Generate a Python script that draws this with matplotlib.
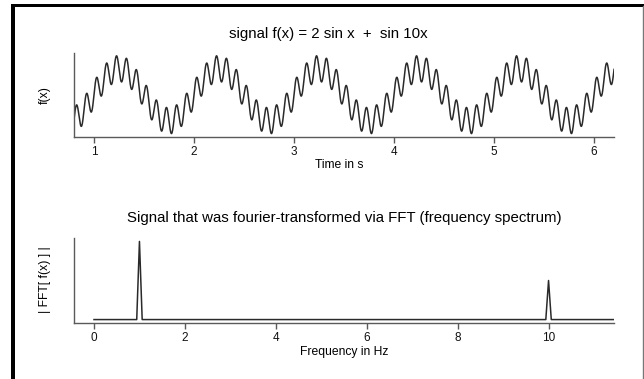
import numpy as np
import matplotlib
matplotlib.use("Agg")
import matplotlib.pyplot as plt
from matplotlib.patches import Rectangle
from matplotlib.lines import Line2D

# signal components read from the title: 2 sin x + sin 10x (x in cycles per second)
amplitudes = [2.0, 1.0]
frequencies_hz = [1.0, 10.0]
time_range = [0.0, 6.4]

# spectrum peaks (frequency in Hz, magnitude)
peak_freqs = [1.0, 10.0]
peak_mags = [2.0, 1.0]
spectrum_range = [0.0, 11.6]

time_ticks = [1, 2, 3, 4, 5, 6]
freq_ticks = [0, 2, 4, 6, 8, 10]

title_top = "signal f(x) = 2 sin x  +  sin 10x"
title_bottom = "Signal that was fourier-transformed via FFT (frequency spectrum)"

plt.rcParams['font.family'] = ['Liberation Sans', 'DejaVu Sans']

W, H = 644, 379
fig = plt.figure(figsize=(W / 100, H / 100), dpi=100)

axis_col = "#5a5a5a"
line_col = "#2a2a2a"


def style(ax):
    for s in ("top", "right"):
        ax.spines[s].set_visible(False)
    for s in ("left", "bottom"):
        ax.spines[s].set_color(axis_col)
        ax.spines[s].set_linewidth(1.0)
    ax.tick_params(axis="x", direction="out", length=4, width=1.0, color=axis_col,
                   labelsize=8.5, pad=3, labelcolor="#111111")
    ax.tick_params(axis="y", left=False, labelleft=False)


def px(x0, y_top, x1, y_bot):
    return [x0 / W, 1 - y_bot / H, (x1 - x0) / W, (y_bot - y_top) / H]


# top: the signal
ax1 = fig.add_axes(px(74, 52.7, 614, 136.7))
t = np.linspace(time_range[0], time_range[1], 6000)
sig = sum(a * np.sin(2 * np.pi * f * t) for a, f in zip(amplitudes, frequencies_hz))
ax1.plot(t, sig, color=line_col, linewidth=1.1)
ax1.set_xlim(0.8, 6.2)
span = sig.max() - sig.min()
ax1.set_ylim(sig.min() - 0.04 * span, sig.max() + 0.04 * span)
ax1.set_xticks(time_ticks)
style(ax1)

# bottom: spectrum
ax2 = fig.add_axes(px(74, 238.3, 614, 322.7))
fx = [spectrum_range[0]]
fy = [0.0]
w = 0.06
for f, m in zip(peak_freqs, peak_mags):
    fx += [f - w, f, f + w]
    fy += [0.0, m, 0.0]
fx.append(spectrum_range[1])
fy.append(0.0)
ax2.plot(fx, fy, color=line_col, linewidth=1.1)
ax2.set_xlim(-0.44, 11.44)
ax2.set_ylim(-0.08, 2.08)
ax2.set_xticks(freq_ticks)
style(ax2)

# texts
fig.text(328 / W, 1 - 34 / H, title_top, ha="center", va="center", fontsize=10.8)
fig.text(344 / W, 1 - 218 / H, title_bottom, ha="center", va="center", fontsize=10.8)
fig.text(339 / W, 1 - 165 / H, "Time in s", ha="center", va="center", fontsize=8.7)
fig.text(344 / W, 1 - 352 / H, "Frequency in Hz", ha="center", va="center", fontsize=8.7)
fig.text(45 / W, 1 - 95 / H, "f(x)", ha="center", va="center", rotation=90, fontsize=8.7)
fig.text(45 / W, 1 - 280 / H, "| FFT[ f(x) ] |", ha="center", va="center", rotation=90, fontsize=8.7)

# frame of the screenshot
fig.add_artist(Rectangle((11 / W, 0), 3.5 / W, 1 - 4 / H, transform=fig.transFigure,
                         color="black", lw=0))
fig.add_artist(Rectangle((11 / W, 1 - 6.5 / H), 1 - 11 / W, 2.5 / H, transform=fig.transFigure,
                         color="black", lw=0))
fig.add_artist(Line2D([643 / W, 643 / W], [0, 1 - 6 / H], transform=fig.transFigure,
                      color="#777777", lw=1.0))

fig.savefig("out.png", dpi=100)
